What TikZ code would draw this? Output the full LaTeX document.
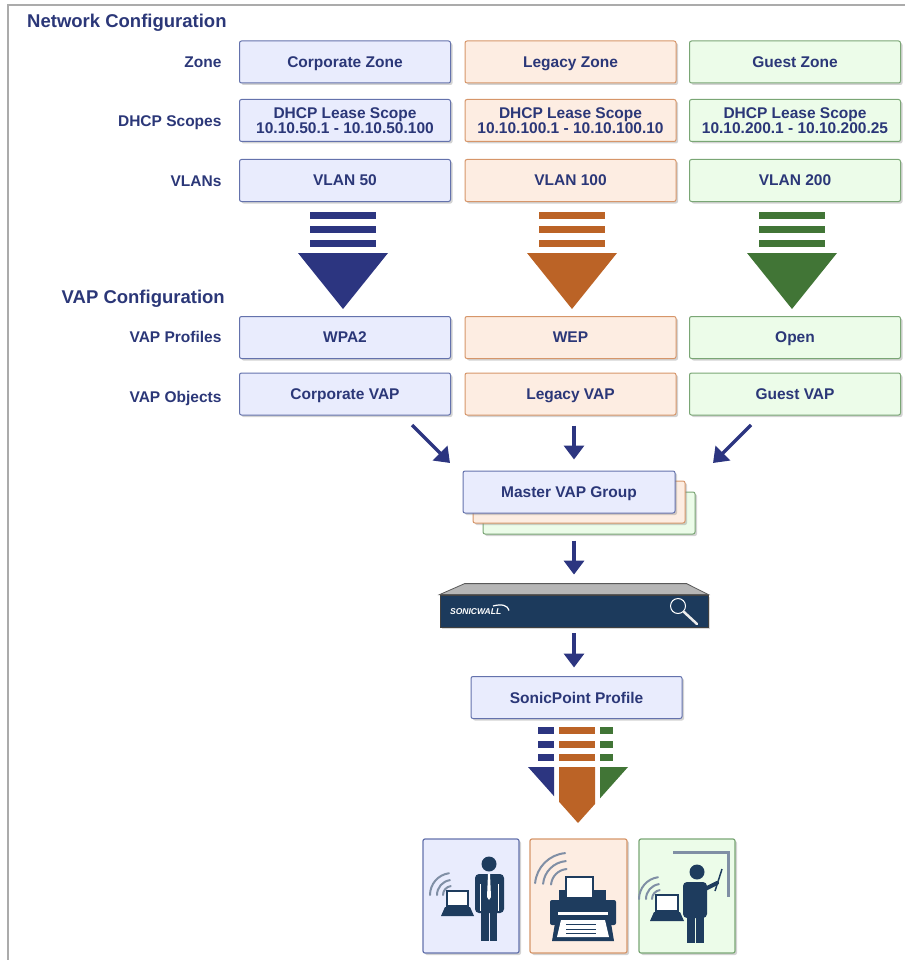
\documentclass[tikz,border=0pt]{standalone}
\usepackage{fontspec}
\setmainfont{Liberation Sans}
\usetikzlibrary{arrows.meta,shadows}

\definecolor{navytext}{RGB}{43,55,120}
\definecolor{corpfill}{RGB}{233,236,253}
\definecolor{corpline}{RGB}{100,114,172}
\definecolor{corpdark}{RGB}{44,53,128}
\definecolor{legfill}{RGB}{253,237,226}
\definecolor{legline}{RGB}{214,150,106}
\definecolor{legdark}{RGB}{187,99,38}
\definecolor{guestfill}{RGB}{236,252,233}
\definecolor{guestline}{RGB}{122,166,117}
\definecolor{guestdark}{RGB}{65,117,54}
\definecolor{iconnavy}{RGB}{30,60,94}
\definecolor{swnavy}{RGB}{28,58,92}
\definecolor{swtop}{RGB}{182,182,182}
\definecolor{wifigray}{RGB}{128,143,165}
\definecolor{framegray}{RGB}{171,171,171}

\begin{document}
\begin{tikzpicture}[x=1pt, y=-1pt, font=\fontsize{15.5}{15.5}\selectfont\bfseries,
    cfgbox/.style={draw, line width=1pt, rounded corners=2pt, minimum width=211pt, minimum height=42pt, inner sep=0pt, align=center, text=navytext, text depth=0pt, drop shadow={shadow xshift=2pt, shadow yshift=-2pt, opacity=0.35}},
    corpbox/.style={cfgbox, draw=corpline, fill=corpfill},
    legbox/.style={cfgbox, draw=legline, fill=legfill},
    guestbox/.style={cfgbox, draw=guestline, fill=guestfill},
    rowlabel/.style={anchor=base east, text=navytext},
    headline/.style={text=navytext, inner sep=0pt, font=\fontsize{18.5}{18.5}\selectfont\bfseries},
    devcard/.style={line width=1.2pt, rounded corners=2pt, minimum width=96pt, minimum height=114pt, drop shadow={shadow xshift=2pt, shadow yshift=-2pt, opacity=0.35}},
    flowarr/.style={-{Triangle[width=20pt,length=14pt]}, line width=3.5pt, draw=corpdark},
    wifi/.style={wifigray, line width=2pt, line cap=round}]
  \useasboundingbox (0,0) rectangle (905,960);
  \draw[framegray, line width=2pt] (905,5) -- (8,5) -- (8,960);

  % network side
  \node[headline, anchor=base west] (netcfg) at (27,28) {Network Configuration};
  \node[rowlabel] (zonelbl) at (225,68) {Zone};
  \node[rowlabel] (dhcplbl) at (225,126.5) {DHCP Scopes};
  \node[rowlabel] (vlanlbl) at (225,186.5) {VLANs};

  \node[corpbox]  (corpzone)  at (345,62)  {Corporate Zone};
  \node[legbox]   (legzone)   at (570.5,62) {Legacy Zone};
  \node[guestbox] (guestzone) at (795,62)  {Guest Zone};
  \node[corpbox]  (corpdhcp)  at (345,120.5)  {DHCP Lease Scope\\10.10.50.1 - 10.10.50.100};
  \node[legbox]   (legdhcp)   at (570.5,120.5) {DHCP Lease Scope\\10.10.100.1 - 10.10.100.10};
  \node[guestbox] (guestdhcp) at (795,120.5)  {DHCP Lease Scope\\10.10.200.1 - 10.10.200.25};
  \node[corpbox]  (vlan50)  at (345,180.5)  {VLAN 50};
  \node[legbox]   (vlan100) at (570.5,180.5) {VLAN 100};
  \node[guestbox] (vlan200) at (795,180.5)  {VLAN 200};

  % striped down arrows
  \foreach \cx/\col in {343/corpdark, 572/legdark, 792/guestdark} {
    \foreach \by in {212,226,240}
      \fill[\col] (\cx-33,\by) rectangle (\cx+33,\by+7);
    \fill[\col] (\cx-45,253) -- (\cx+45,253) -- (\cx,309) -- cycle;
  }

  % VAP side
  \node[headline, anchor=base east] (vapcfg) at (225,303) {VAP Configuration};
  \node[rowlabel] (proflbl) at (225,342.5) {VAP Profiles};
  \node[rowlabel] (objlbl) at (225,402.5) {VAP Objects};

  \node[corpbox]  (wpa2)  at (345,337.5)  {WPA2};
  \node[legbox]   (wep)   at (570.5,337.5) {WEP};
  \node[guestbox] (open)  at (795,337.5)  {Open};
  \node[corpbox]  (corpvap)  at (345,394)  {Corporate VAP};
  \node[legbox]   (legvap)   at (570.5,394) {Legacy VAP};
  \node[guestbox] (guestvap) at (795,394)  {Guest VAP};

  % master group, stacked
  \node[guestbox, minimum width=212pt] (mvgguest) at (589,513) {};
  \node[legbox, minimum width=212pt] (mvgleg) at (579,502) {};
  \node[corpbox, minimum width=212pt] (mvg) at (569,492) {Master VAP Group};

  \coordinate (cvtail) at (412,425);
  \coordinate (cvhead) at (450,463);
  \coordinate (gvtail) at (751,425);
  \coordinate (gvhead) at (713,463);
  \draw[flowarr] (cvtail) -- (cvhead);
  \draw[flowarr] (gvtail) -- (gvhead);

  % appliance
  \node[draw=black!75, line width=0.8pt, fill=swnavy, minimum width=268pt, minimum height=32pt, inner sep=0pt,
        drop shadow={shadow xshift=1.5pt, shadow yshift=-1.5pt, opacity=0.3}] (swall) at (574,611) {};
  \filldraw[fill=swtop, draw=black!65, line width=0.8pt] (swall.north west) -- ++(25,-11) -- ++(222,0) -- (swall.north east) -- cycle;
  \node[text=white, anchor=west, inner sep=0pt, font=\fontsize{8.5}{8.5}\selectfont\bfseries\itshape] (swlogo) at (450,612) {SONICWALL};
  \draw[white, line width=1.2pt] (493,606) .. controls (502,603.5) and (508,605.5) .. (509,610.5);
  \draw[white, line width=1pt] (678,606) circle (7.5);
  \draw[white!85!gray, line width=2.5pt, line cap=round] (684,612) -- (697,624);

  \draw[flowarr, shorten <=10pt, shorten >=11pt] (legvap.south -| swall.north) -- (mvg.north -| swall.north);
  \draw[flowarr, shorten <=6pt, shorten >=20pt] (mvgguest.south -| swall.north) -- (swall.north);

  \node[corpbox] (spprof) at (576.5,697.5) {SonicPoint Profile};
  \draw[flowarr, shorten <=6pt, shorten >=8.5pt] (swall.south) -- (swall.south |- spprof.north);

  % merged arrow
  \foreach \xa/\xb/\ta/\tb/\col in {538/554/520/554/corpdark, 559/595/559/595/legdark, 600/613/600/640/guestdark} {
    \foreach \by in {727,741,754}
      \fill[\col] (\xa,\by) rectangle (\xb,\by+7);
    \begin{scope}
      \clip (\ta,760) rectangle (\tb,830);
      \fill[\col] (528,767) -- (628,767) -- (578,823) -- cycle;
    \end{scope}
  }

  % client cards
  \node[devcard, draw=corpline, fill=corpfill] (corpcard) at (471,896) {};
  \node[devcard, draw=legline, fill=legfill, minimum width=97pt] (legcard) at (578.5,896) {};
  \node[devcard, draw=guestline, fill=guestfill] (guestcard) at (687,896) {};

  % laptop user
  \foreach \r in {9,15,22}
    \draw[wifi] (452,895) ++(180:\r) arc[start angle=180, end angle=262, radius=\r];
  \filldraw[fill=white, draw=iconnavy, line width=1.5pt] (447,891) rectangle (468,906);
  \fill[iconnavy] (445,907) -- (470,907) -- (474,916) -- (441,916) -- cycle;
  \fill[iconnavy] (489,864) circle (7.5);
  \fill[iconnavy, rounded corners=4pt] (475,874) rectangle (504,913);
  \fill[iconnavy] (481,905) rectangle (488.5,941);
  \fill[iconnavy] (489.5,905) rectangle (497,941);
  \fill[white] (488,874) -- (490,874) -- (491,897) -- (489,900) -- (487,897) -- cycle;
  \draw[white, line width=0.8pt] (480.5,884) -- (480.5,911);
  \draw[white, line width=0.8pt] (498.5,884) -- (498.5,911);

  % printer
  \foreach \r in {17,25,33}
    \draw[wifi] (568,886) ++(185:\r) arc[start angle=185, end angle=265, radius=\r];
  \fill[iconnavy] (559,890) rectangle (606,903);
  \fill[iconnavy, rounded corners=2pt] (550,900) rectangle (616,925);
  \filldraw[fill=white, draw=iconnavy, line width=1.5pt] (566,877) rectangle (593,898);
  \fill[white] (558,912) rectangle (608,915);
  \fill[iconnavy] (556,917) -- (610,917) -- (614,941) -- (552,941) -- cycle;
  \fill[white] (561,920) -- (605,920) -- (609,937) -- (557,937) -- cycle;
  \foreach \ly in {924,929,933}
    \draw[iconnavy, line width=0.8pt] (566,\ly) -- (596,\ly);

  % presenter
  \draw[wifigray, line width=3pt] (673,852) -- (728,852) -- (728,897);
  \foreach \r in {9,15,22}
    \draw[wifi] (661,899) ++(180:\r) arc[start angle=180, end angle=262, radius=\r];
  \filldraw[fill=white, draw=iconnavy, line width=1.5pt] (656,895) rectangle (678,911);
  \fill[iconnavy] (654,912) -- (680,912) -- (684,921) -- (650,921) -- cycle;
  \fill[iconnavy] (697,872) circle (7.5);
  \fill[iconnavy, rounded corners=4pt] (683,882) rectangle (707,918);
  \fill[iconnavy] (687,910) rectangle (694.5,943);
  \fill[iconnavy] (695.5,910) rectangle (704,943);
  \draw[iconnavy, line width=4pt, line cap=round] (703,890) -- (717,883);
  \draw[iconnavy, line width=1.5pt] (715,891) -- (722,869);
\end{tikzpicture}
\end{document}
